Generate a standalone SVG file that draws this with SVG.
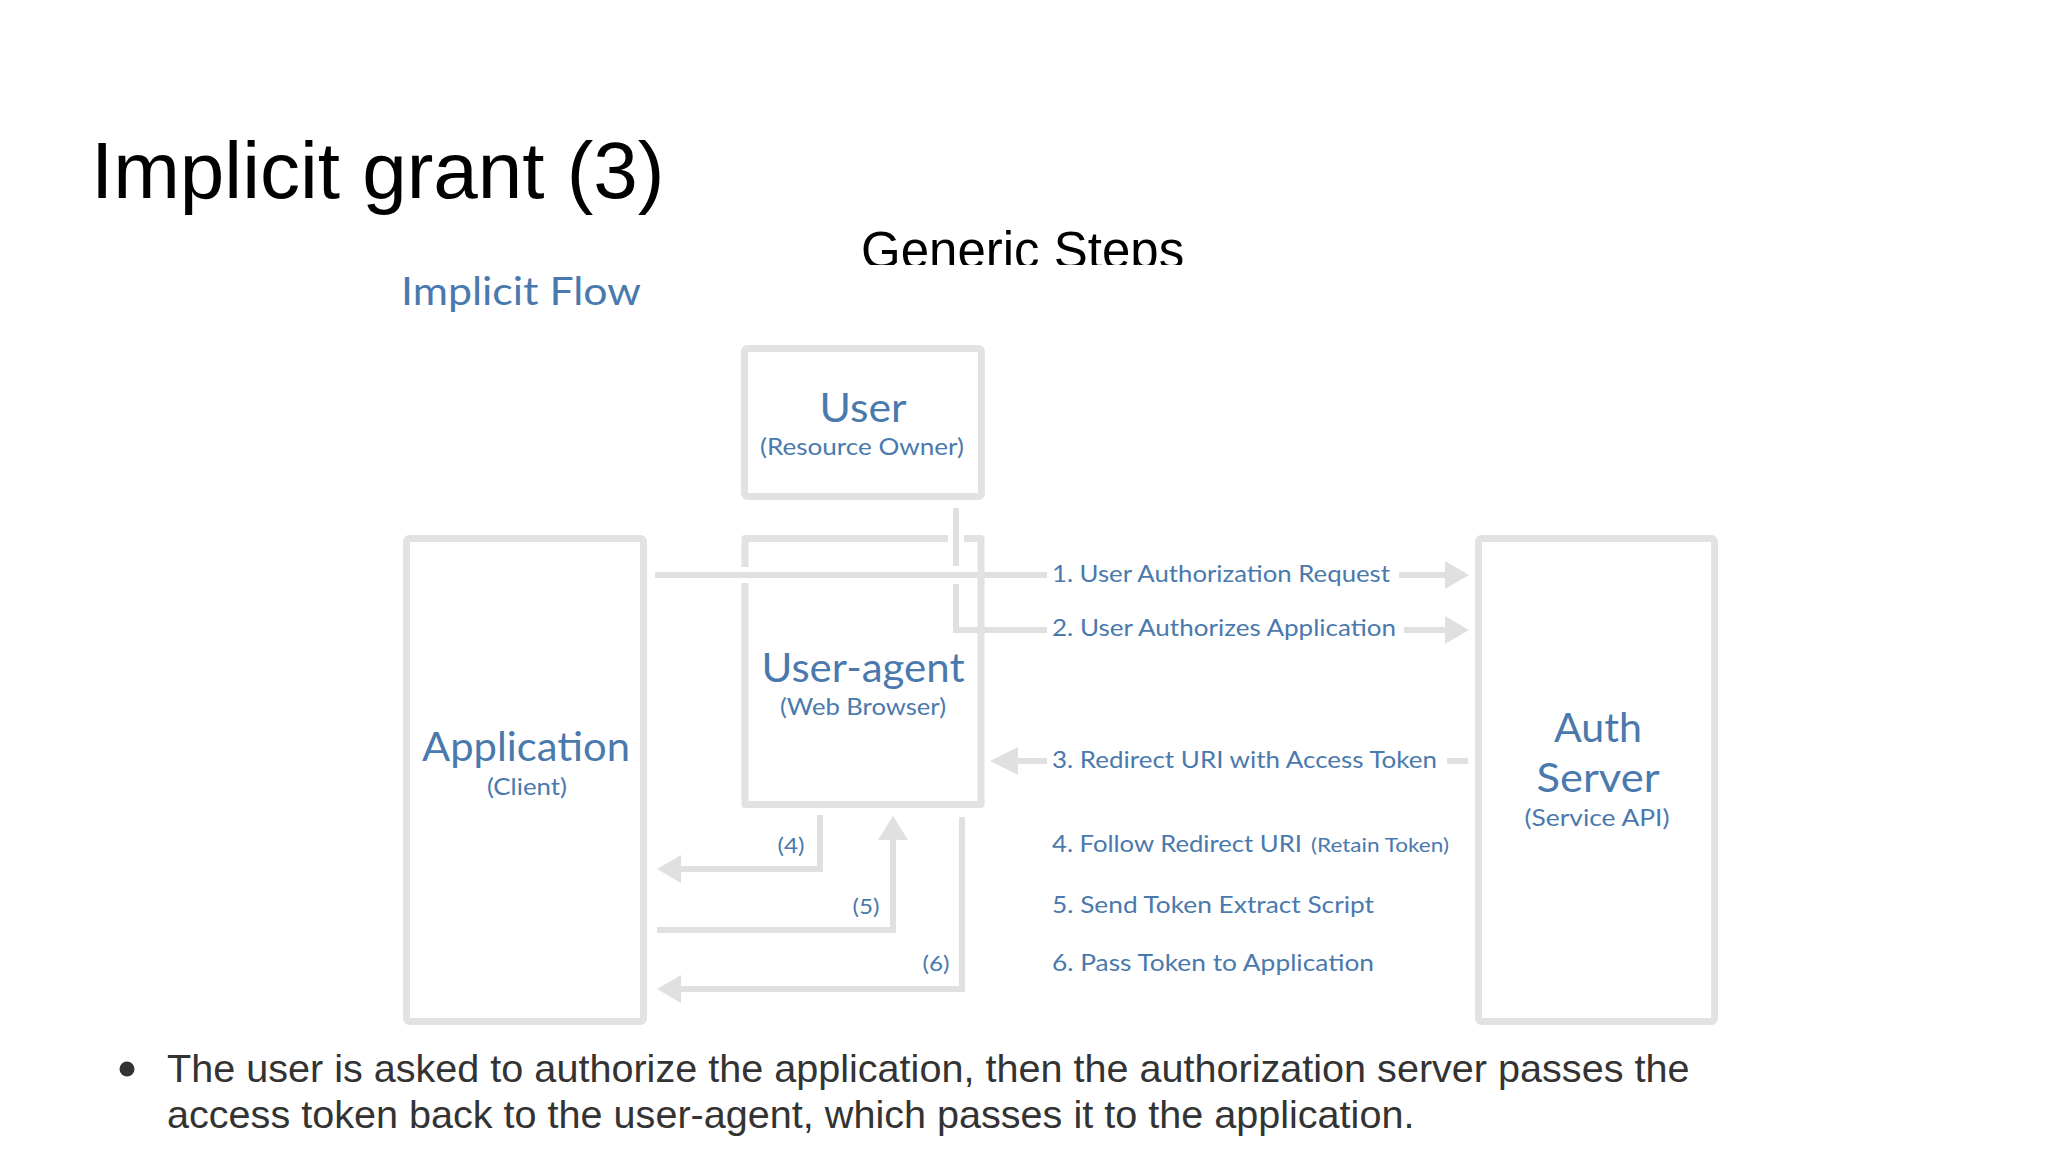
<svg xmlns="http://www.w3.org/2000/svg" width="2048" height="1152" viewBox="0 0 2048 1152">
<defs>
<style>
.box{fill:none;stroke:#e2e2e2;stroke-width:7;stroke-linejoin:round}
.ln{fill:none;stroke:#e0e0e0;stroke-width:6}
.ah{fill:#e0e0e0}
.t{font-family:Lato,"Open Sans",sans-serif;fill:#4a79ad}
.big{font-size:40px}
.sub{font-size:23px}
.lbl{font-size:24px}
.num{font-size:22px}
.slide{font-family:"Liberation Sans",Arial,sans-serif}
</style>
<clipPath id="gclip"><rect x="0" y="0" width="2048" height="265"/></clipPath>
</defs>
<rect width="2048" height="1152" fill="#ffffff"/>
<text class="slide" x="91" y="198" font-size="80" fill="#000">Implicit grant (3)</text>
<text class="slide" x="861" y="268" font-size="51" fill="#000" clip-path="url(#gclip)">Generic Steps</text>
<text class="t" x="401" y="305" font-size="38" textLength="240" lengthAdjust="spacingAndGlyphs">Implicit Flow</text>

<g id="connectors">
<path class="ln" d="M956 508 V566 M956 584 V630 H1047"/>
<path class="ln" d="M655 575 H1047 M1399 575 H1447"/>
<polygon class="ah" points="1445,561 1469,575 1445,589"/>
<path class="ln" d="M1404 630 H1447"/>
<polygon class="ah" points="1445,616 1469,630 1445,644"/>
<path class="ln" d="M1447 761 H1468 M1016 761 H1047"/>
<polygon class="ah" points="1018,747 990,761 1018,775"/>
<path class="ln" d="M820 815 V869 H678"/>
<polygon class="ah" points="681,855 657,869 681,883"/>
<path class="ln" d="M657 930 H893 V838"/>
<polygon class="ah" points="878,840 893,816 908,840"/>
<path class="ln" d="M962 817 V989 H678"/>
<polygon class="ah" points="681,975 657,989 681,1003"/>
<text class="t lbl" x="1052" y="582" textLength="338" lengthAdjust="spacingAndGlyphs">1. User Authorization Request</text>
<text class="t lbl" x="1052" y="636" textLength="344" lengthAdjust="spacingAndGlyphs">2. User Authorizes Application</text>
<text class="t lbl" x="1052" y="768" textLength="385" lengthAdjust="spacingAndGlyphs">3. Redirect URI with Access Token</text>
<text class="t lbl" x="1052" y="852" textLength="250" lengthAdjust="spacingAndGlyphs">4. Follow Redirect URI</text>
<text class="t" x="1311" y="852" font-size="19" textLength="138" lengthAdjust="spacingAndGlyphs">(Retain Token)</text>
<text class="t lbl" x="1052" y="913" textLength="322" lengthAdjust="spacingAndGlyphs">5. Send Token Extract Script</text>
<text class="t lbl" x="1052" y="971" textLength="322" lengthAdjust="spacingAndGlyphs">6. Pass Token to Application</text>
<text class="t num" x="791" y="853" text-anchor="middle" textLength="27" lengthAdjust="spacingAndGlyphs">(4)</text>
<text class="t num" x="866" y="914" text-anchor="middle" textLength="27" lengthAdjust="spacingAndGlyphs">(5)</text>
<text class="t num" x="936" y="971" text-anchor="middle" textLength="27" lengthAdjust="spacingAndGlyphs">(6)</text>
</g>

<g id="user">
<rect class="box" x="744.5" y="348.5" width="237" height="148" rx="3"/>
<text class="t big" x="863" y="422" text-anchor="middle" textLength="87" lengthAdjust="spacingAndGlyphs">User</text>
<text class="t sub" x="862" y="455" text-anchor="middle" textLength="204" lengthAdjust="spacingAndGlyphs">(Resource Owner)</text>
</g>

<g id="user-agent">
<path class="box" d="M745 567 V538.5 H948 M964 538.5 H981 V804.5 H745 V583"/>
<text class="t big" x="863" y="682" text-anchor="middle" textLength="203" lengthAdjust="spacingAndGlyphs">User-agent</text>
<text class="t sub" x="863" y="715" text-anchor="middle" textLength="166" lengthAdjust="spacingAndGlyphs">(Web Browser)</text>
</g>

<g id="application">
<rect class="box" x="406.5" y="538.5" width="237" height="483" rx="3"/>
<text class="t big" x="526" y="761" text-anchor="middle" textLength="208" lengthAdjust="spacingAndGlyphs">Application</text>
<text class="t sub" x="527" y="795" text-anchor="middle" textLength="80" lengthAdjust="spacingAndGlyphs">(Client)</text>
</g>

<g id="auth-server">
<rect class="box" x="1478.5" y="538.5" width="236" height="483" rx="3"/>
<text class="t big" x="1598" y="742" text-anchor="middle" textLength="88" lengthAdjust="spacingAndGlyphs">Auth</text>
<text class="t big" x="1598" y="792" text-anchor="middle" textLength="123" lengthAdjust="spacingAndGlyphs">Server</text>
<text class="t sub" x="1597" y="826" text-anchor="middle" textLength="145" lengthAdjust="spacingAndGlyphs">(Service API)</text>
</g>

<g id="bullet">
<circle cx="127" cy="1069" r="7.5" fill="#333"/>
<text class="slide" x="167" y="1082" font-size="39.6" fill="#333">The user is asked to authorize the application, then the authorization server passes the</text>
<text class="slide" x="167" y="1128" font-size="39.6" fill="#333">access token back to the user-agent, which passes it to the application.</text>
</g>
</svg>
